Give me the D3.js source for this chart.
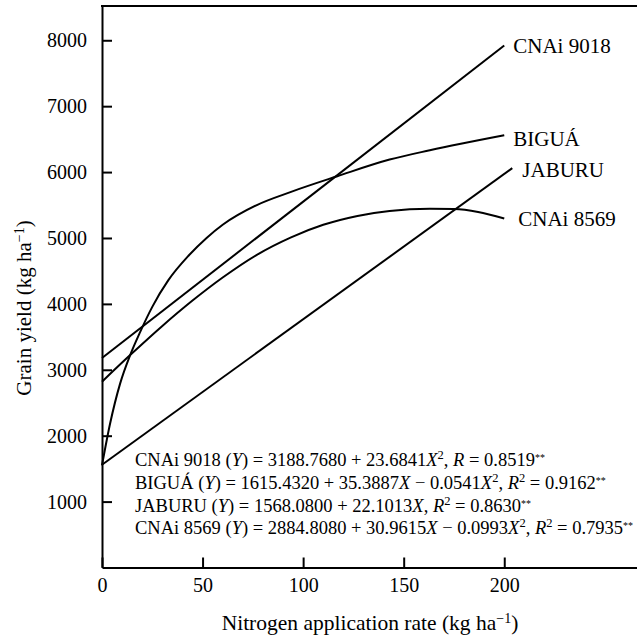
<!DOCTYPE html>
<html>
<head>
<meta charset="utf-8">
<script src="https://cdn.jsdelivr.net/npm/d3@7"></script>
<style>
  body { margin: 0; background: #fff; }
  svg text { font-family: "Liberation Serif", "DejaVu Serif", serif; fill: #000; }
</style>
</head>
<body>
<div id="chart"></div>
<script>
// Chart size
var chart_width  = 637;
var chart_height = 637;

// Data (N rate kg/ha, grain yield kg/ha)
var cnai9018 = [ [0, 3180], [200, 7920] ];
var jaburu   = [ [0, 1560], [204, 6060] ];
var bigua    = [ [0, 1550], [4, 2180], [9, 2790], [14, 3223], [19, 3576], [25, 3955],
                 [33, 4360], [43, 4730], [52, 5000], [60, 5200], [77, 5500], [94, 5700],
                 [117, 5937], [143, 6190], [163, 6331], [200, 6559] ];
var cnai8569 = [ [0, 2820], [14, 3223], [30, 3665], [45, 4050], [60, 4400], [77, 4745],
                 [94, 5010], [110, 5200], [127, 5335], [143, 5410], [163, 5442], [175, 5438],
                 [187, 5395], [200, 5296] ];

var series_names = [ "CNAi 9018", "BIGUÁ", "JABURU", "CNAi 8569" ];
var x_ticks      = [ 0, 50, 100, 150, 200 ];
var y_ticks      = [ 1000, 2000, 3000, 4000, 5000, 6000, 7000, 8000 ];

// Equations: [text, style]  n = normal, i = italic, s = superscript
var equations = [
    [ ["CNAi 9018 (", "n"], ["Y", "i"], [") = 3188.7680 + 23.6841", "n"], ["X", "i"], ["2", "s"],
      [", ", "n"], ["R", "i"], [" = 0.8519", "n"], ["**", "s"] ],
    [ ["BIGUÁ (", "n"], ["Y", "i"], [") = 1615.4320 + 35.3887", "n"], ["X", "i"], [" \u2212 0.0541", "n"],
      ["X", "i"], ["2", "s"], [", ", "n"], ["R", "i"], ["2", "s"], [" = 0.9162", "n"], ["**", "s"] ],
    [ ["JABURU (", "n"], ["Y", "i"], [") = 1568.0800 + 22.1013", "n"], ["X", "i"], [", ", "n"],
      ["R", "i"], ["2", "s"], [" = 0.8630", "n"], ["**", "s"] ],
    [ ["CNAi 8569 (", "n"], ["Y", "i"], [") = 2884.8080 + 30.9615", "n"], ["X", "i"], [" \u2212 0.0993", "n"],
      ["X", "i"], ["2", "s"], [", ", "n"], ["R", "i"], ["2", "s"], [" = 0.7935", "n"], ["**", "s"] ]
];


// Scales
var x = d3.scaleLinear().domain([0, 266]).range([102, 637]);
var y = d3.scaleLinear().domain([0, 8520]).range([567.5, 6]);


// SVG
var svg = d3.select("#chart")
    .append("svg")
    .attr("width", chart_width)
    .attr("height", chart_height)
    .attr("font-family", "Liberation Serif");


// Axes
var y_axis = d3.axisLeft(y)
    .tickValues(y_ticks)
    .tickFormat(d3.format("d"))
    .tickSizeInner(-10)
    .tickSizeOuter(0)
    .tickPadding(15);

var x_axis = d3.axisBottom(x)
    .tickValues(x_ticks)
    .tickFormat(d3.format("d"))
    .tickSizeInner(-10)
    .tickSizeOuter(0)
    .tickPadding(10);

var gy = svg.append("g")
    .attr("transform", "translate(" + x(0) + ",0)")
    .call(y_axis);

var gx = svg.append("g")
    .attr("transform", "translate(0," + y(0) + ")")
    .call(x_axis);

[gx, gy].forEach(function(g){
    g.attr("font-family", "Liberation Serif");
    g.selectAll("path, line").attr("stroke", "#000").attr("stroke-width", 2);
    g.selectAll("text")
        .attr("font-size", 20)
        .attr("fill", "#000");
});

// top frame line
svg.append("line")
    .attr("x1", x(0) - 1).attr("x2", x(266))
    .attr("y1", y(8520)).attr("y2", y(8520))
    .attr("stroke", "#000")
    .attr("stroke-width", 2);


// Lines
var line = d3.line()
    .x(function(d){ return x(d[0]); })
    .y(function(d){ return y(d[1]); })
    .curve(d3.curveMonotoneX);

var all_series = [ cnai9018, bigua, jaburu, cnai8569 ];
var label_off  = [ [9, 0], [9, 3], [10, 2], [14, 0] ];

svg.selectAll("path.series")
    .data(all_series)
    .enter()
    .append("path")
    .attr("class", "series")
    .attr("d", line)
    .attr("fill", "none")
    .attr("stroke", "#000")
    .attr("stroke-width", 2);

svg.selectAll("text.name")
    .data(all_series)
    .enter()
    .append("text")
    .attr("class", "name")
    .attr("x", function(d, i){ return x(d[d.length - 1][0]) + label_off[i][0]; })
    .attr("y", function(d, i){ return y(d[d.length - 1][1]) + label_off[i][1]; })
    .attr("dy", "0.35em")
    .attr("font-size", 21)
    .text(function(d, i){ return series_names[i]; });


// Equations
var eq_g = svg.append("g")
    .attr("font-size", 18.5);

equations.forEach(function(eq, i){
    var t = eq_g.append("text")
        .attr("x", 135)
        .attr("y", 466 + i * 22.8);
    eq.forEach(function(part){
        var ts = t.append("tspan").text(part[0]);
        if( part[1] === "i" ){
            ts.attr("font-style", "italic");
        }else if( part[1] === "s" ){
            ts.attr("baseline-shift", "super")
              .attr("font-size", part[0] === "**" ? 10 : 12.5);
        }
    });
});


// Axis titles
var y_title = svg.append("text")
    .attr("transform", "translate(31,308) rotate(-90)")
    .attr("text-anchor", "middle")
    .attr("font-size", 21);
y_title.append("tspan").text("Grain yield (kg ha");
y_title.append("tspan").attr("baseline-shift", "super").attr("font-size", 14).text("\u22121");
y_title.append("tspan").text(")");

var x_title = svg.append("text")
    .attr("x", 370)
    .attr("y", 630)
    .attr("text-anchor", "middle")
    .attr("font-size", 21.5);
x_title.append("tspan").text("Nitrogen application rate (kg ha");
x_title.append("tspan").attr("baseline-shift", "super").attr("font-size", 14).text("\u22121");
x_title.append("tspan").text(")");
</script>
</body>
</html>
